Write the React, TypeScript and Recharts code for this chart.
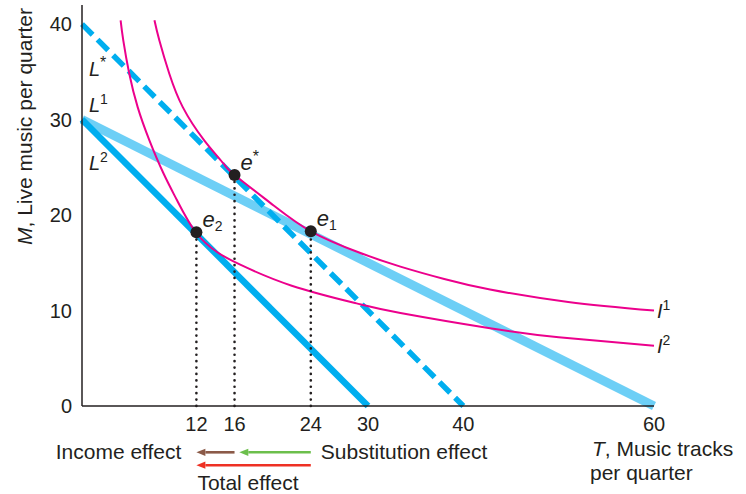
import React from "react";
import { LineChart, Line, XAxis, YAxis, ReferenceLine, ReferenceDot } from "recharts";

const FONT = '"Liberation Sans", Arial, Helvetica, sans-serif';
const INK = "#231f20";
const CYAN = "#00aeef";
const LIGHT_CYAN = "#6dcff6";
const MAGENTA = "#ec008c";

// axis ticks
const xTicks = [12, 16, 24, 30, 40, 60];
const yTicks = [0, 10, 20, 30, 40];

// budget lines (T = music tracks, M = live music)
const budgetL1 = [{ t: 0, m: 30 }, { t: 60, m: 0 }];
const budgetL2 = [{ t: 0, m: 30 }, { t: 30, m: 0 }];
const budgetLStar = [{ t: 0, m: 40 }, { t: 40, m: 0 }];

// indifference curves
const i1T = [7.6, 8.11, 9.16, 10.57, 12.8, 14.83, 16, 20.1, 24, 29, 33.4, 38, 42.8, 51, 60];
const i1M = [40.4, 38.3, 34.8, 31.3, 27.85, 25.4, 24.2, 21.0, 18.3, 16.1, 14.6, 13.3, 12.2, 10.9, 10.0];
const i2T = [4.05, 4.33, 4.96, 5.84, 7.06, 8.53, 9.94, 11.93, 14.2, 16.6, 22, 28.8, 33.4, 42.8, 50, 60];
const i2M = [40.4, 38.3, 34.8, 31.3, 27.85, 24.4, 21.6, 18.2, 16.1, 14.8, 12.6, 10.75, 9.75, 8.15, 7.2, 6.3];

// optimal bundles
const bundleNames = ["e2", "e*", "e1"];
const bundleT = [12, 16, 24];
const bundleM = [18.2, 24.2, 18.3];

// effects shown under the axis (from -> to along T)
const effectNames = ["Income effect", "Substitution effect", "Total effect"];
const effectFrom = [16, 24, 24];
const effectTo = [12, 16.5, 12];
const effectLevel = [-4.85, -4.85, -6.2];
const effectColors = ["#8b5a48", "#6cbf4c", "#ee3124"];

const i1Data = i1T.map((t, k) => ({ t, m: i1M[k] }));
const i2Data = i2T.map((t, k) => ({ t, m: i2M[k] }));

const Scripted = ({ x, y, base, script, sub, size = 20 }: any) => (
  <text x={x} y={y} fontFamily={FONT} fontSize={size} fill={INK}>
    <tspan fontStyle="italic">{base}</tspan>
    <tspan fontSize={script === "*" ? 16 : 14} dy={sub ? 4 : -8}>
      {script}
    </tspan>
  </text>
);

const bundleShape = (name: string) => (p: any) => {
  const script = name.slice(1);
  return (
    <g>
      <circle cx={p.cx} cy={p.cy} r={6} fill={INK} />
      <Scripted x={p.cx + 6} y={p.cy - 5} base="e" script={script} sub={script !== "*"} size={22} />
    </g>
  );
};

const curveLabel = (base: string, script: string, dx: number, dy: number, sub = false) => (p: any) => (
  <Scripted x={p.cx + dx} y={p.cy + dy} base={base} script={script} sub={sub} />
);

const arrowShape = (k: number) => (p: any) => {
  const { x1, y1, x2, y2 } = p;
  const color = effectColors[k];
  const head = 9;
  const half = 3.6;
  const dir = x2 < x1 ? -1 : 1;
  let label = null;
  if (k === 0) {
    label = (
      <text x={x2 - 15} y={y1 + 7} textAnchor="end" fontFamily={FONT} fontSize={21} fill={INK}>
        {effectNames[k]}
      </text>
    );
  } else if (k === 1) {
    label = (
      <text x={x1 + 10} y={y1 + 7} fontFamily={FONT} fontSize={21} fill={INK}>
        {effectNames[k]}
      </text>
    );
  } else {
    label = (
      <text x={x2 + 1} y={y1 + 25} fontFamily={FONT} fontSize={21} fill={INK}>
        {effectNames[k]}
      </text>
    );
  }
  return (
    <g>
      <line x1={x1} y1={y1} x2={x2 - dir * head} y2={y2} stroke={color} strokeWidth={2.6} />
      <polygon
        points={`${x2},${y2} ${x2 - dir * head},${y2 - half} ${x2 - dir * head},${y2 + half}`}
        fill={color}
      />
      {label}
    </g>
  );
};

const YTitle = (props: any) => {
  const vb = props.viewBox;
  return (
    <text
      transform={`translate(${vb.x + 32},${vb.y + 240}) rotate(-90)`}
      fontFamily={FONT}
      fontSize={21}
      fill={INK}
    >
      <tspan fontStyle="italic">M</tspan>, Live music per quarter
    </text>
  );
};

const XTitle = (props: any) => {
  const vb = props.viewBox;
  const x = vb.x + vb.width - 62;
  return (
    <text fontFamily={FONT} fontSize={21} fill={INK}>
      <tspan x={x} y={vb.y + 50}>
        <tspan fontStyle="italic">T</tspan>, Music tracks
      </tspan>
      <tspan x={x - 2} y={vb.y + 74}>
        per quarter
      </tspan>
    </text>
  );
};

const App: React.FC = () => {
  return (
    <div style={{ position: "absolute", left: 0, top: 0, background: "#fff" }}>
      <LineChart width={746} height={494} margin={{ top: 5, right: 92, bottom: 58, left: 0 }}>
        <XAxis
          dataKey="t"
          type="number"
          domain={[0, 60]}
          ticks={xTicks}
          interval={0}
          height={30}
          tickLine={false}
          tickMargin={5}
          axisLine={{ stroke: INK, strokeWidth: 1.5 }}
          tick={{ fill: INK, fontSize: 20, fontFamily: FONT }}
          label={XTitle}
        />
        <YAxis
          type="number"
          domain={[0, 42]}
          ticks={yTicks}
          interval={0}
          width={82}
          tickLine={false}
          tickMargin={4}
          axisLine={{ stroke: INK, strokeWidth: 1.5 }}
          tick={{ fill: INK, fontSize: 20, fontFamily: FONT }}
          label={YTitle}
        />
        <Line data={budgetL1} dataKey="m" type="linear" stroke={LIGHT_CYAN} strokeWidth={9} dot={false} activeDot={false} isAnimationActive={false} />
        <Line data={budgetL2} dataKey="m" type="linear" stroke={CYAN} strokeWidth={6.5} dot={false} activeDot={false} isAnimationActive={false} />
        <Line data={budgetLStar} dataKey="m" type="linear" stroke={CYAN} strokeWidth={5.5} strokeDasharray="15 7" dot={false} activeDot={false} isAnimationActive={false} />
        <Line data={i2Data} dataKey="m" type="natural" stroke={MAGENTA} strokeWidth={2} dot={false} activeDot={false} isAnimationActive={false} />
        <Line data={i1Data} dataKey="m" type="natural" stroke={MAGENTA} strokeWidth={2} dot={false} activeDot={false} isAnimationActive={false} />

        {bundleT.map((t, k) => (
          <ReferenceLine
            key={`drop-${k}`}
            segment={[{ x: t, y: 0 }, { x: t, y: bundleM[k] }]}
            stroke={INK}
            strokeWidth={2.6}
            strokeDasharray="0.1 6.3"
            strokeLinecap="round"
          />
        ))}
        {bundleT.map((t, k) => (
          <ReferenceDot key={`dot-${k}`} x={t} y={bundleM[k]} r={6} shape={bundleShape(bundleNames[k])} />
        ))}

        <ReferenceDot x={0.73} y={34.55} r={0} ifOverflow="visible" shape={curveLabel("L", "*", 0, 0)} />
        <ReferenceDot x={0.73} y={30.8} r={0} ifOverflow="visible" shape={curveLabel("L", "1", 0, 0)} />
        <ReferenceDot x={0.73} y={24.7} r={0} ifOverflow="visible" shape={curveLabel("L", "2", 0, 0)} />
        <ReferenceDot x={60} y={i1M[i1M.length - 1]} r={0} ifOverflow="visible" shape={curveLabel("I", "1", 3, 7)} />
        <ReferenceDot x={60} y={i2M[i2M.length - 1]} r={0} ifOverflow="visible" shape={curveLabel("I", "2", 3, 7)} />

        {effectNames.map((name, k) => (
          <ReferenceLine
            key={name}
            segment={[{ x: effectFrom[k], y: effectLevel[k] }, { x: effectTo[k], y: effectLevel[k] }]}
            ifOverflow="visible"
            shape={arrowShape(k)}
          />
        ))}
      </LineChart>
    </div>
  );
};

export default App;
